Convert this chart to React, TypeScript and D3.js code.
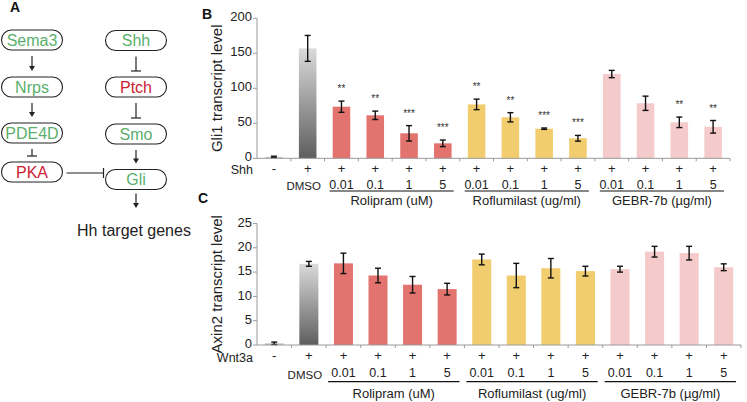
import * as d3 from "d3";

const FONT = "'Liberation Sans', Arial, Helvetica, sans-serif";

// x categories shared by both bar panels
const TREATED = ["-", "+", "+", "+", "+", "+", "+", "+", "+", "+", "+", "+", "+", "+"];
const DOSES = ["", "DMSO", "0.01", "0.1", "1", "5", "0.01", "0.1", "1", "5", "0.01", "0.1", "1", "5"];
const KIND = ["ctrl", "dmso", "roli", "roli", "roli", "roli", "rofl", "rofl", "rofl", "rofl", "gebr", "gebr", "gebr", "gebr"];
const GROUPS: [string, number, number][] = [
  ["Rolipram (uM)", 2, 5],
  ["Roflumilast (ug/ml)", 6, 9],
  ["GEBR-7b (\u00b5g/ml)", 10, 13],
];

// panel B - Gli1
const GLI1 = [2, 157, 73.7, 61.4, 35.7, 21.4, 77, 58.6, 42.3, 28.6, 120.4, 78.6, 51.4, 45];
const GLI1_ERR = [1, 18.5, 8, 6, 11, 4.7, 7.5, 6.6, 1, 4.1, 5.2, 10.2, 7.5, 9];
const GLI1_SIG = ["", "", "**", "**", "***", "***", "**", "**", "***", "***", "", "", "**", "**"];
const GLI1_TICKS = [0, 50, 100, 150, 200];

// panel C - Axin2
const AXIN2 = [0.35, 16.7, 16.8, 14.3, 12.4, 11.5, 17.6, 14.3, 15.8, 15.2, 15.6, 19.2, 18.9, 16.0];
const AXIN2_ERR = [0.25, 0.5, 2.1, 1.5, 1.7, 1.2, 1.1, 2.5, 2, 1, 0.6, 1.1, 1.4, 0.7];
const AXIN2_SIG = ["", "", "", "", "", "", "", "", "", "", "", "", "", ""];
const AXIN2_TICKS = [0, 5, 10, 15, 20, 25];

// panel A - pathway
const LEFT_NODES = ["Sema3", "Nrps", "PDE4D", "PKA"];
const RIGHT_NODES = ["Shh", "Ptch", "Smo", "Gli"];
const LEFT_LINKS = ["arrow", "arrow", "inhibit"];
const RIGHT_LINKS = ["inhibit", "inhibit", "arrow"];
const RED_NODES = ["PKA", "Ptch"];

const FILL: Record<string, string> = {
  ctrl: "#c8c8c8",
  dmso: "url(#dmsoGrad)",
  roli: "#e3736f",
  rofl: "#f2cd6f",
  gebr: "#f5caca",
};

const GREEN = "#5aaf6c";
const RED = "#cc2233";
const AXIS = "#9a9a9a";

interface PanelProps {
  values: number[];
  errs: number[];
  sig: string[];
  ticks: number[];
  xRange: [number, number];
  yRange: [number, number];
  padding: number;
  title: string;
  treatLabel: string;
  rows: { sign: number; dose: number; line: number; group: number };
  inset: [number, number];
}

function BarPanel(p: PanelProps) {
  const idx = d3.range(p.values.length).map(String);
  const x = d3.scaleBand().domain(idx).range(p.xRange).paddingInner(p.padding).paddingOuter(p.padding / 2);
  const y = d3.scaleLinear().domain([0, p.ticks[p.ticks.length - 1]]).range(p.yRange);
  const y0 = y(0);
  const step = x.step();
  const bw = x.bandwidth();
  const start = p.xRange[0];
  const axisX = start;

  return (
    <g>
      {/* bars */}
      {p.values.map((v, i) => (
        <rect key={"b" + i} x={x(String(i))} y={y(v)} width={bw} height={y0 - y(v)} fill={FILL[KIND[i]]} />
      ))}
      {/* error bars */}
      {p.values.map((v, i) => {
        const cx = (x(String(i)) as number) + bw / 2;
        const top = y(v + p.errs[i]);
        const bot = y(Math.max(0, v - p.errs[i]));
        return (
          <g key={"e" + i} stroke="#111" strokeWidth={1.4}>
            <line x1={cx} x2={cx} y1={top} y2={bot} />
            <line x1={cx - 3} x2={cx + 3} y1={top} y2={top} />
            <line x1={cx - 3} x2={cx + 3} y1={bot} y2={bot} />
          </g>
        );
      })}
      {/* significance */}
      {p.sig.map((s, i) =>
        s ? (
          <text key={"s" + i} x={(x(String(i)) as number) + bw / 2} y={y(p.values[i] + p.errs[i]) - 9}
            textAnchor="middle" fontSize={10} fill="#333">{s}</text>
        ) : null
      )}
      {/* y axis */}
      <line x1={axisX} x2={axisX} y1={y0} y2={p.yRange[1]} stroke={AXIS} />
      {p.ticks.map((t) => (
        <g key={"t" + t}>
          <line x1={axisX - 4} x2={axisX} y1={y(t)} y2={y(t)} stroke={AXIS} />
          <text x={axisX - 5} y={y(t) - 1.5} dy="0.36em" textAnchor="end" fontSize={13} fill="#222">{t}</text>
        </g>
      ))}
      {/* x axis */}
      <line x1={start} x2={p.xRange[1]} y1={y0} y2={y0} stroke={AXIS} />
      {idx.map((_, i) => (
        <line key={"xt" + i} x1={start + step * (i + 1)} x2={start + step * (i + 1)} y1={y0} y2={y0 + 3} stroke={AXIS} />
      ))}
      {/* y title */}
      <text transform={`translate(${axisX - 40},${(y0 + p.yRange[1]) / 2}) rotate(-90)`} dy="0.35em"
        textAnchor="middle" fontSize={15} fill="#222">{p.title}</text>
      {/* category rows */}
      <text x={axisX - 4} y={p.rows.sign + 1.5} dy="0.36em" textAnchor="end" fontSize={12.5} fill="#222">{p.treatLabel}</text>
      {TREATED.map((s, i) => (
        <text key={"p" + i} x={(x(String(i)) as number) + bw / 2} y={p.rows.sign} dy="0.36em"
          textAnchor="middle" fontSize={13} fill="#222">{s}</text>
      ))}
      {DOSES.map((d, i) => (
        <text key={"d" + i} x={(x(String(i)) as number) + bw / 2 + (i === 1 ? -4 : 0)}
          y={p.rows.dose + (i === 1 ? 2 : 0)} dy="0.36em" textAnchor="middle"
          fontSize={d === "DMSO" ? 11.5 : 12.5} fill="#222">{d}</text>
      ))}
      {GROUPS.map(([name, a, b]) => {
        const x1 = start + step * a + p.inset[0];
        const x2 = start + step * (b + 1) - p.inset[1];
        return (
          <g key={name}>
            <line x1={x1} x2={x2} y1={p.rows.line} y2={p.rows.line} stroke="#111" strokeWidth={1.2} />
            <text x={(x1 + x2) / 2} y={p.rows.group} dy="0.36em" textAnchor="middle" fontSize={13} fill="#222">{name}</text>
          </g>
        );
      })}
    </g>
  );
}

function Pathway() {
  const cols = { left: 32, right: 136 };
  const leftY = [40, 87, 133, 172];
  const rightY = [40.5, 87, 134, 179.5];
  const pw = 61;
  const ph = 20;

  const node = (name: string, cx: number, cy: number) => (
    <g key={name}>
      <rect x={cx - pw / 2} y={cy - ph / 2} width={pw} height={ph} rx={ph / 2} fill="#fff" stroke="#222" strokeWidth={1.1} />
      <text x={cx} y={cy} dy="0.36em" textAnchor="middle" fontSize={16}
        fill={RED_NODES.includes(name) ? RED : GREEN}>{name}</text>
    </g>
  );

  const link = (kind: string, cx: number, y1: number, y2: number, key: string) => (
    <g key={key} stroke="#222" strokeWidth={1.2}>
      <line x1={cx} x2={cx} y1={y1} y2={kind === "arrow" ? y2 - 4 : y2} />
      {kind === "arrow" ? (
        <path d={`M${cx - 3},${y2 - 5} L${cx + 3},${y2 - 5} L${cx},${y2} Z`} fill="#222" stroke="none" />
      ) : (
        <line x1={cx - 5} x2={cx + 5} y1={y2} y2={y2} />
      )}
    </g>
  );

  return (
    <g>
      <text x={10} y={12} fontSize={14} fontWeight="bold" fill="#111">A</text>
      {LEFT_NODES.map((n, i) => node(n, cols.left, leftY[i]))}
      {RIGHT_NODES.map((n, i) => node(n, cols.right, rightY[i]))}
      {LEFT_LINKS.map((k, i) => link(k, cols.left, leftY[i] + ph / 2 + 6, leftY[i + 1] - ph / 2 - 6, "l" + i))}
      {RIGHT_LINKS.map((k, i) => link(k, cols.right, rightY[i] + ph / 2 + 6, rightY[i + 1] - ph / 2 - 6, "r" + i))}
      {/* PKA -| Gli */}
      <g stroke="#222" strokeWidth={1.2}>
        <line x1={cols.left + pw / 2 + 4} x2={cols.right - pw / 2 - 2} y1={173} y2={173} />
        <line x1={cols.right - pw / 2 - 2} x2={cols.right - pw / 2 - 2} y1={168} y2={178} />
      </g>
      {link("arrow", cols.right, rightY[3] + ph / 2 + 4, 208, "g")}
      <text x={cols.right - 2} y={230} dy="0.36em" textAnchor="middle" fontSize={16} fill="#222">Hh target genes</text>
    </g>
  );
}

export default function App() {
  return (
    <svg width={747} height={402} style={{ display: "block", position: "absolute", left: 0, top: 0, background: "#fff" }}
      fontFamily={FONT}>
      <defs>
        <linearGradient id="dmsoGrad" x1="0" y1="0" x2="0" y2="1">
          <stop offset="0" stopColor="#dadada" />
          <stop offset="1" stopColor="#5e5e5e" />
        </linearGradient>
      </defs>
      <rect width={747} height={402} fill="#fff" />
      <Pathway />
      <text x={202} y={19} fontSize={14} fontWeight="bold" fill="#111">B</text>
      <BarPanel values={GLI1} errs={GLI1_ERR} sig={GLI1_SIG} ticks={GLI1_TICKS}
        xRange={[257, 730]} yRange={[158.3, 18.3]} padding={0.48}
        title="Gli1 transcript level" treatLabel="Shh"
        rows={{ sign: 168.3, dose: 184, line: 191, group: 200.5 }} inset={[5, 6]} />
      <text x={198} y={203} fontSize={14} fontWeight="bold" fill="#111">C</text>
      <BarPanel values={AXIN2} errs={AXIN2_ERR} sig={AXIN2_SIG} ticks={AXIN2_TICKS}
        xRange={[257, 741]} yRange={[345, 223.5]} padding={0.45}
        title="Axin2  transcript level" treatLabel="Wnt3a"
        rows={{ sign: 355.7, dose: 372.7, line: 381.7, group: 393.3 }} inset={[2, 5]} />
    </svg>
  );
}
